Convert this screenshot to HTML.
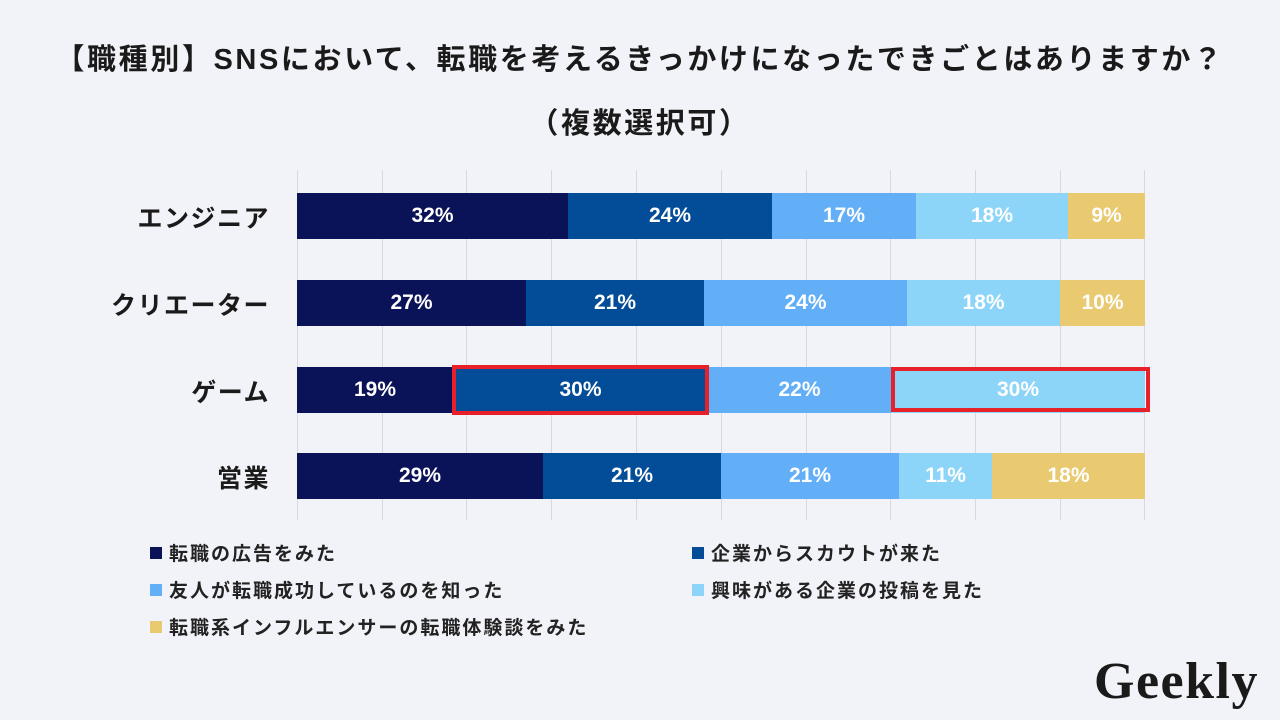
<!DOCTYPE html>
<html><head><meta charset="utf-8"><style>
*{margin:0;padding:0;box-sizing:border-box}
body{width:1280px;height:720px;background:#f2f3f8;position:relative;overflow:hidden;font-family:"Liberation Sans","Noto Sans CJK JP",sans-serif;color:#1a1a1a}
.t{position:absolute;left:0;width:1280px;text-align:center;font-weight:bold;font-size:29px;letter-spacing:2.6px}
.g{position:absolute;top:170px;width:1px;height:350px;background:#d8d9de}
.s{position:absolute;height:46px;color:#fff;font-weight:bold;font-size:21px;display:flex;align-items:center;justify-content:center}
.l{position:absolute;right:1010px;font-weight:bold;font-size:25px;letter-spacing:1.5px;text-align:right;white-space:nowrap}
.k{position:absolute;font-size:19px;letter-spacing:2px;font-weight:bold;display:flex;align-items:center;white-space:nowrap;color:#222}
.k i{display:inline-block;width:12px;height:12px;margin-right:7px}
.r{position:absolute;border:4px solid #e8202a}
</style></head><body>
<div class="t" style="top:36px">【職種別】SNSにおいて、転職を考えるきっかけになったできごとはありますか？</div>
<div class="t" style="top:100px">（複数選択可）</div>
<div class="g" style="left:297px"></div><div class="g" style="left:382px"></div><div class="g" style="left:466px"></div><div class="g" style="left:551px"></div><div class="g" style="left:636px"></div><div class="g" style="left:721px"></div><div class="g" style="left:806px"></div><div class="g" style="left:890px"></div><div class="g" style="left:975px"></div><div class="g" style="left:1060px"></div><div class="g" style="left:1144px"></div>

<div class="l" style="top:199px">エンジニア</div>
<div class="l" style="top:286px">クリエーター</div>
<div class="l" style="top:373px">ゲーム</div>
<div class="l" style="top:459px">営業</div>

<div class="s" style="top:193px;left:297px;width:271px;background:#0a1258">32%</div>
<div class="s" style="top:193px;left:568px;width:204px;background:#034c97">24%</div>
<div class="s" style="top:193px;left:772px;width:144px;background:#62aef7">17%</div>
<div class="s" style="top:193px;left:916px;width:152px;background:#8dd5f8">18%</div>
<div class="s" style="top:193px;left:1068px;width:77px;background:#e9ca71">9%</div>

<div class="s" style="top:280px;left:297px;width:229px;background:#0a1258">27%</div>
<div class="s" style="top:280px;left:526px;width:178px;background:#034c97">21%</div>
<div class="s" style="top:280px;left:704px;width:203px;background:#62aef7">24%</div>
<div class="s" style="top:280px;left:907px;width:153px;background:#8dd5f8">18%</div>
<div class="s" style="top:280px;left:1060px;width:85px;background:#e9ca71">10%</div>

<div class="s" style="top:367px;left:297px;width:156px;background:#0a1258">19%</div>
<div class="s" style="top:367px;left:453px;width:255px;background:#034c97">30%</div>
<div class="s" style="top:367px;left:708px;width:183px;background:#62aef7">22%</div>
<div class="s" style="top:367px;left:891px;width:254px;background:#8dd5f8">30%</div>
<div class="r" style="top:365px;left:452px;width:257px;height:50px"></div>
<div class="r" style="top:367px;left:891px;width:259px;height:45px"></div>

<div class="s" style="top:453px;left:297px;width:246px;background:#0a1258">29%</div>
<div class="s" style="top:453px;left:543px;width:178px;background:#034c97">21%</div>
<div class="s" style="top:453px;left:721px;width:178px;background:#62aef7">21%</div>
<div class="s" style="top:453px;left:899px;width:93px;background:#8dd5f8">11%</div>
<div class="s" style="top:453px;left:992px;width:153px;background:#e9ca71">18%</div>

<div class="k" style="left:150px;top:539px"><i style="background:#0a1258"></i>転職の広告をみた</div>
<div class="k" style="left:692px;top:539px"><i style="background:#034c97"></i>企業からスカウトが来た</div>
<div class="k" style="left:150px;top:576px"><i style="background:#62aef7"></i>友人が転職成功しているのを知った</div>
<div class="k" style="left:692px;top:576px"><i style="background:#8dd5f8"></i>興味がある企業の投稿を見た</div>
<div class="k" style="left:150px;top:613px"><i style="background:#e9ca71"></i>転職系インフルエンサーの転職体験談をみた</div>

<div style="position:absolute;left:1094px;top:652px;font-family:'Liberation Serif',serif;font-weight:bold;font-size:52px;color:#1a1a1a;letter-spacing:1.5px">Geekly</div>
</body></html>
